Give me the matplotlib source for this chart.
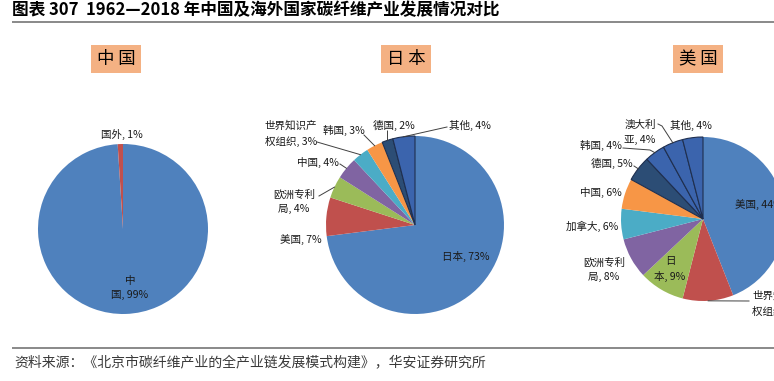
import matplotlib
matplotlib.use('Agg')
import matplotlib.pyplot as plt
from matplotlib.patches import Rectangle
import numpy as np

plt.rcParams['font.family'] = ['Noto Sans CJK SC', 'DejaVu Sans']

# ---------------- data ----------------
title = "图表 307  1962—2018 年中国及海外国家碳纤维产业发展情况对比"
source = "资料来源：《北京市碳纤维产业的全产业链发展模式构建》，华安证券研究所"
panel_titles = ["中国", "日本", "美国"]

cn_labels = ["中国", "国外"]
cn_values = [99, 1]

jp_labels = ["日本", "美国", "欧洲专利局", "中国", "世界知识产权组织", "韩国", "德国", "其他"]
jp_values = [73, 7, 4, 4, 3, 3, 2, 4]

us_labels = ["美国", "世界知识产权组织", "日本", "欧洲专利局", "加拿大", "中国",
             "德国", "韩国", "澳大利亚", "其他"]
us_values = [44, 10, 9, 8, 6, 6, 5, 4, 4, 4]

# ---------------- styles ----------------
BLUE, RED, GREEN, PURPLE, CYAN, ORANGE, NAVY, BLUE2 = (
    '#4F81BD', '#C0504D', '#9BBB59', '#8064A2', '#4BACC6', '#F79646', '#2C4D75', '#3B64AD')
cn_colors = [BLUE, RED]
jp_colors = [BLUE, RED, GREEN, PURPLE, CYAN, ORANGE, NAVY, BLUE2]
us_colors = [BLUE, RED, GREEN, PURPLE, CYAN, ORANGE, NAVY, BLUE2, BLUE2, BLUE2]

W, H = 774, 381
fig = plt.figure(figsize=(W / 100, H / 100), dpi=100)
ax = fig.add_axes([0, 0, 1, 1])


def P(y):
    return H - y


LBL = 7.6
TXT = '#1a1a1a'
LEAD = '#404040'

# title & rules
ax.text(12, P(10), title, fontsize=12, fontweight='bold', va='center', ha='left', color='black')
ax.plot([12, W], [P(21.5), P(21.5)], color='#808080', lw=1.3, solid_capstyle='butt')
ax.plot([12, W], [P(348), P(348)], color='#808080', lw=1.3, solid_capstyle='butt')
ax.text(14, P(362), source, fontsize=10, va='center', ha='left', color='#3a3a3a')

# panel title boxes
for name, cx in zip(panel_titles, [116, 406, 698]):
    ax.add_patch(Rectangle((cx - 25, P(73)), 50, 28, facecolor='#F4B183', edgecolor='none'))
    ax.text(cx, P(59), name[0] + " " + name[1],
            fontsize=12.5, ha='center', va='center', color='black')


def fmt(name, v, brk):
    s = f"{name}, {v}%"
    if brk:
        s = s[:brk] + "\n" + s[brk:]
    return s


def draw_pie(values, colors, labels, center, r, layout, leaders, dark_edges=()):
    wedges, _ = ax.pie(values, colors=colors, startangle=90, counterclock=False,
                       center=(center[0], P(center[1])), radius=r,
                       wedgeprops=dict(linewidth=0))
    for i in dark_edges:
        wedges[i].set_edgecolor('#1F2F4F')
        wedges[i].set_linewidth(0.8)
    for name, v in zip(labels, values):
        x, y, ha, brk = layout[name]
        ax.text(x, P(y), fmt(name, v, brk), fontsize=LBL, ha=ha, va='center',
                multialignment=ha, linespacing=1.55, color=TXT)
    for name, pts in leaders.items():
        w = wedges[labels.index(name)]
        ang = np.deg2rad((w.theta1 + w.theta2) / 2)
        ex = w.center[0] + w.r * np.cos(ang)
        ey = w.center[1] + w.r * np.sin(ang)
        xs = [p[0] for p in pts] + [ex]
        ys = [P(p[1]) for p in pts] + [ey]
        ax.plot(xs, ys, color=LEAD, lw=0.7)
    return wedges


# China
draw_pie(cn_values, cn_colors, cn_labels, (123, 229), 85,
         {"中国": (130, 288, 'center', 1), "国外": (122, 134, 'center', 0)}, {})

# Japan
draw_pie(jp_values, jp_colors, jp_labels, (415, 225), 89,
         {"日本": (466, 256, 'center', 0),
          "美国": (322, 240, 'right', 0),
          "欧洲专利局": (294, 202, 'center', 4),
          "中国": (339, 162, 'right', 0),
          "世界知识产权组织": (317, 133.5, 'right', 5),
          "韩国": (344, 130, 'center', 0),
          "德国": (394, 125, 'center', 0),
          "其他": (470, 125, 'center', 0)},
         {"欧洲专利局": [(319, 196)],
          "中国": [(340, 164)],
          "世界知识产权组织": [(317, 142)],
          "韩国": [(364, 135)],
          "德国": [(387.5, 131)],
          "其他": [(447, 127)]},
         dark_edges=(6, 7))

# USA
draw_pie(us_values, us_colors, us_labels, (703, 219), 82,
         {"美国": (735, 205, 'left', 0),
          "世界知识产权组织": (752, 303.5, 'left', 5),
          "日本": (670, 269, 'center', 1),
          "欧洲专利局": (604, 269.5, 'center', 4),
          "加拿大": (618, 226, 'right', 0),
          "中国": (622, 192, 'right', 0),
          "德国": (633, 163, 'right', 0),
          "韩国": (622, 145, 'right', 0),
          "澳大利亚": (640, 132.5, 'center', 3),
          "其他": (691, 125, 'center', 0)},
         {"世界知识产权组织": [(749, 301)],
          "德国": [(634, 166)],
          "韩国": [(623, 148), (650, 150)],
          "澳大利亚": [(658, 124), (662, 126)]},
         dark_edges=(6, 7, 8, 9))

ax.set_xlim(0, W)
ax.set_ylim(0, H)
ax.set_aspect('auto')
ax.axis('off')
fig.savefig('out.png', dpi=100)
